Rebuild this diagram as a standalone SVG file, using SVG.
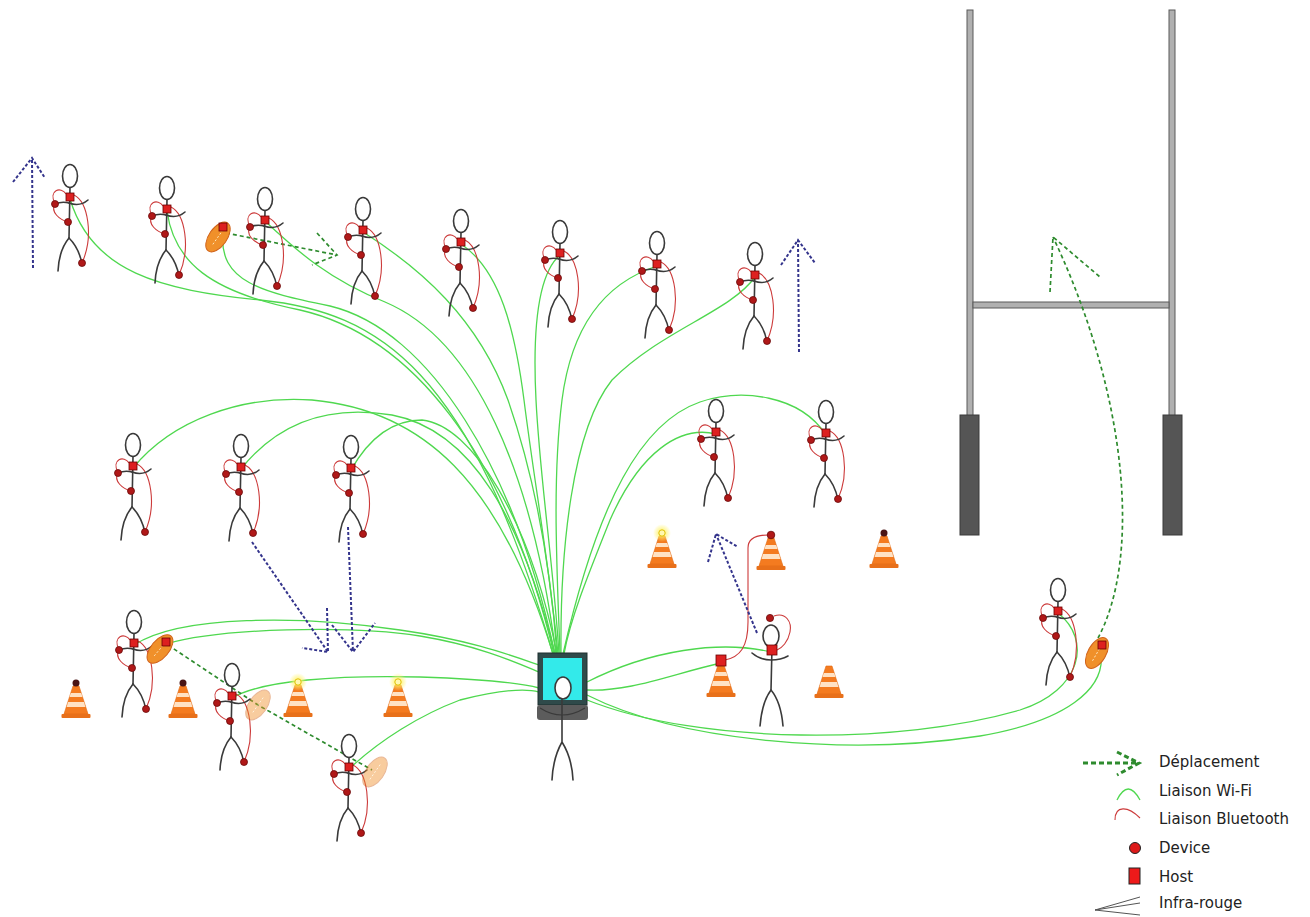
<svg xmlns="http://www.w3.org/2000/svg" xmlns:xlink="http://www.w3.org/1999/xlink" width="1310" height="917" viewBox="0 0 1310 917">
  <style>
    .stk{fill:none;stroke:#3a3a3a;stroke-width:1.6;stroke-linecap:round}
    .head{fill:#fff;stroke:#3a3a3a;stroke-width:1.6}
    .bt{fill:none;stroke:#cc3a3a;stroke-width:1.1}
    .dev{fill:#b01818;stroke:#6a0a0a;stroke-width:0.8}
    .host{fill:#dd2020;stroke:#6a0000;stroke-width:0.8}
    .wifi{fill:none;stroke:#4fd84f;stroke-width:1.3}
    .move{fill:none;stroke:#2e8b2e;stroke-width:1.7;stroke-dasharray:4 3}
    .run{fill:none;stroke:#34348c;stroke-width:2;stroke-dasharray:3 2}
    .post{fill:#b0b0b0;stroke:#5a5a5a;stroke-width:1}
    .pad{fill:#555;stroke:#3a3a3a;stroke-width:1}
    .lbl{font-family:"DejaVu Sans",Verdana,sans-serif;font-size:15px;fill:#222}
  </style>
  <defs>
    <radialGradient id="glow">
      <stop offset="0" stop-color="#fff36a" stop-opacity="1"/>
      <stop offset="0.5" stop-color="#fff36a" stop-opacity="0.6"/>
      <stop offset="1" stop-color="#fff36a" stop-opacity="0"/>
    </radialGradient>
    <!-- stick player carrying devices, origin at head centre -->
    <g id="player">
      <path class="bt" d="M4,19 C18,26 24,60 12,87"/>
      <path class="bt" d="M-4,18 C-9,10 -22,14 -15,28"/>
      <path class="bt" d="M-15,28 C-20,36 -10,44 -2,46"/>
      <ellipse class="head" cx="0" cy="0" rx="7.5" ry="11.5"/>
      <path class="stk" d="M0,11.5 L-1,62"/>
      <path class="stk" d="M-1,27 Q-8,25 -15,28"/>
      <path class="stk" d="M-1,27 Q10,31 18,24"/>
      <path class="stk" d="M-1,62 Q-11,74 -12,95"/>
      <path class="stk" d="M-1,62 Q9,72 12,88"/>
      <rect class="host" x="-4" y="17" width="8" height="8"/>
      <circle class="dev" cx="-15" cy="28" r="3.5"/>
      <circle class="dev" cx="-2" cy="46" r="3.5"/>
      <circle class="dev" cx="12" cy="87" r="3.5"/>
    </g>
    <!-- traffic cone, origin at the tip -->
    <g id="cone">
      <path d="M-3,3 L3,3 L12,31 L-12,31 Z" fill="#f47b20" stroke="#e06a12" stroke-width="0.6"/>
      <path d="M-5.2,10 L5.2,10 L6.5,14 L-6.5,14 Z" fill="#ffe2c4"/>
      <path d="M-8,19 L8,19 L9.4,24 L-9.4,24 Z" fill="#ffe2c4"/>
      <rect x="-14.5" y="31" width="29" height="4" rx="1" fill="#e8701a"/>
    </g>
    <g id="ball">
      <ellipse rx="17" ry="9" fill="#f0902a" stroke="#d0621a" stroke-width="1"/>
      <path d="M-9,0 L9,0" stroke="#fff2d0" stroke-width="0.8" stroke-dasharray="2 2"/>
    </g>
    <g id="lamp">
      <circle r="9" fill="url(#glow)"/>
      <circle r="3.2" fill="#fff8b0" stroke="#e0c000" stroke-width="1"/>
    </g>
  </defs>

  <rect width="1310" height="917" fill="#fff"/>

  <!-- goal posts -->
  <g id="goal">
    <rect class="post" x="967" y="10" width="6" height="410"/>
    <rect class="post" x="1169" y="10" width="6" height="410"/>
    <rect class="post" x="973" y="302" width="196" height="6"/>
    <rect class="pad" x="960" y="415" width="19" height="120"/>
    <rect class="pad" x="1163" y="415" width="19" height="120"/>
  </g>

  <!-- connectors -->
  <g id="connectors">
    <!-- Wi-Fi links to the coach's computer -->
    <path class="wifi" d="M70,199 C92,272 160,290 260,300 C380,312 470,370 553,654"/>
    <path class="wifi" d="M167,211 C174,262 210,292 300,310 C410,335 505,450 554,654"/>
    <path class="wifi" d="M223,232 C218,282 262,292 330,306 C430,330 515,470 555,654"/>
    <path class="wifi" d="M266,222 C298,252 330,280 385,302 C475,340 532,470 556,654"/>
    <path class="wifi" d="M363,232 C420,268 478,318 508,400 C535,478 550,560 557,654"/>
    <path class="wifi" d="M461,244 C500,270 515,330 524,400 C534,480 550,570 558,654"/>
    <path class="wifi" d="M560,255 C540,272 532,320 536,400 C540,480 553,560 559,654"/>
    <path class="wifi" d="M657,266 C608,282 572,322 562,400 C552,480 557,570 560,654"/>
    <path class="wifi" d="M755,277 C730,312 662,330 612,380 C572,430 560,550 561,654"/>
    <path class="wifi" d="M133,468 C172,420 242,395 312,400 C422,410 500,480 553,654"/>
    <path class="wifi" d="M241,469 C280,420 332,405 392,415 C472,430 522,520 555,654"/>
    <path class="wifi" d="M351,470 C368,440 390,420 422,420 C472,425 530,520 557,654"/>
    <path class="wifi" d="M716,434 C680,425 640,452 610,520 C586,580 570,620 564,654"/>
    <path class="wifi" d="M826,435 C800,395 742,388 700,402 C642,422 598,500 563,654"/>
    <path class="wifi" d="M134,645 C180,615 300,615 400,630 C470,640 510,655 539,665"/>
    <path class="wifi" d="M166,644 C220,628 350,625 420,636 C480,646 515,662 539,672"/>
    <path class="wifi" d="M232,698 C262,680 340,675 420,677 C480,679 520,683 539,688"/>
    <path class="wifi" d="M349,769 C380,740 420,715 460,700 C500,690 525,688 539,692"/>
    <path class="wifi" d="M721,663 C672,674 630,692 587,690"/>
    <path class="wifi" d="M771,652 C720,640 650,650 587,682"/>
    <path class="wifi" d="M1058,613 C1092,640 1082,690 1020,710 C900,745 700,745 587,700"/>
    <path class="wifi" d="M1100,648 C1110,690 1062,722 980,736 C850,756 680,742 587,695"/>

    <!-- Bluetooth link from the cone host to the cone device -->
    <path class="bt" d="M725,660 C740,657 748,647 748,622 L748,548 C748,538 758,535 768,535"/>
    <!-- Bluetooth loop on the coach-side player -->
    <path class="bt" d="M774,616 C786,612 792,622 790,632 C788,642 782,648 777,650"/>

    <!-- ball movement -->
    <path class="move" d="M226,233 L337,255"/>
    <path class="move" d="M317,233 L337,255 L312,265"/>
    <path class="move" d="M168,645 L258,705 L372,770"/>
    <path class="move" d="M1098,638 C1140,560 1130,400 1053,237"/>
    <path class="move" d="M1050,292 L1053,237 L1100,277"/>

    <!-- player runs -->
    <path class="run" d="M33,268 L32,158 M13,182 L32,158 L45,178"/>
    <path class="run" d="M799,352 L798,240 M781,265 L798,240 L815,263"/>
    <path class="run" d="M252,542 L328,652 M327,608 L328,652 L302,648"/>
    <path class="run" d="M348,527 L353,652 M332,625 L353,652 L375,623"/>
    <path class="run" d="M757,633 L716,534 M708,562 L716,534 L738,547"/>
  </g>

  <!-- cones -->
  <g id="cone-1"><use xlink:href="#cone" x="76" y="683"/><circle cx="76" cy="683" r="3.5" fill="#4a1414"/></g>
  <g id="cone-2"><use xlink:href="#cone" x="183" y="683"/><circle cx="183" cy="683" r="3.5" fill="#4a1414"/></g>
  <g id="cone-3"><use xlink:href="#cone" x="298" y="682"/><use xlink:href="#lamp" x="298" y="682"/></g>
  <g id="cone-4"><use xlink:href="#cone" x="398" y="682"/><use xlink:href="#lamp" x="398" y="682"/></g>
  <g id="cone-5"><use xlink:href="#cone" x="662" y="533"/><use xlink:href="#lamp" x="662" y="533"/></g>
  <g id="cone-6"><use xlink:href="#cone" x="771" y="535"/><circle class="dev" cx="771" cy="535" r="3.8"/></g>
  <g id="cone-7"><use xlink:href="#cone" x="884" y="533"/><circle cx="884" cy="533" r="3.5" fill="#4a1414"/></g>
  <g id="cone-8"><use xlink:href="#cone" x="721" y="662"/><rect class="host" x="716" y="655" width="10" height="11"/></g>
  <g id="cone-9"><use xlink:href="#cone" x="829" y="663"/></g>

  <!-- players -->
  <g id="player-1"><use xlink:href="#player" x="70" y="176"/></g>
  <g id="player-2"><use xlink:href="#player" x="167" y="188"/></g>
  <g id="player-3"><use xlink:href="#player" x="265" y="199"/></g>
  <g id="player-4"><use xlink:href="#player" x="363" y="209"/></g>
  <g id="player-5"><use xlink:href="#player" x="461" y="221"/></g>
  <g id="player-6"><use xlink:href="#player" x="560" y="232"/></g>
  <g id="player-7"><use xlink:href="#player" x="657" y="243"/></g>
  <g id="player-8"><use xlink:href="#player" x="755" y="254"/></g>
  <g id="player-9"><use xlink:href="#player" x="133" y="445"/></g>
  <g id="player-10"><use xlink:href="#player" x="241" y="446"/></g>
  <g id="player-11"><use xlink:href="#player" x="351" y="447"/></g>
  <g id="player-12"><use xlink:href="#player" x="716" y="411"/></g>
  <g id="player-13"><use xlink:href="#player" x="826" y="412"/></g>
  <g id="player-14"><use xlink:href="#player" x="134" y="622"/></g>
  <g id="player-15"><use xlink:href="#player" x="232" y="675"/></g>
  <g id="player-16"><use xlink:href="#player" x="349" y="746"/></g>
  <g id="player-18"><use xlink:href="#player" x="1058" y="590"/></g>

  <!-- player wearing a head device -->
  <g id="player-17">
    <ellipse class="head" cx="771" cy="636" rx="8" ry="11"/>
    <path class="stk" d="M772,647 L771,690"/>
    <path class="stk" d="M752,653 Q760,660 771,660 Q781,660 788,656"/>
    <path class="stk" d="M771,690 Q762,702 760,726 M771,690 Q781,702 783,726"/>
    <rect class="host" x="767" y="645" width="10" height="10"/>
    <circle class="dev" cx="770" cy="618" r="3.6"/>
  </g>

  <!-- balls -->
  <g id="ball-1"><use xlink:href="#ball" transform="translate(218,237) rotate(-55)"/><rect class="host" x="219" y="223" width="8" height="8"/></g>
  <g id="ball-2"><use xlink:href="#ball" transform="translate(160,649) rotate(-50)"/><rect class="host" x="162" y="638" width="8" height="8"/></g>
  <g id="ball-3" opacity="0.45"><use xlink:href="#ball" transform="translate(258,705) rotate(-55)"/></g>
  <g id="ball-4" opacity="0.45"><use xlink:href="#ball" transform="translate(375,772) rotate(-55)"/></g>
  <g id="ball-5"><use xlink:href="#ball" transform="translate(1097,653) rotate(-60)"/><rect class="host" x="1098" y="641" width="8" height="8"/></g>

  <!-- coach at the computer -->
  <g id="computer">
    <rect x="538" y="653" width="49" height="52" fill="#2f4a4a" stroke="#1e2e2e" stroke-width="1"/>
    <rect x="543" y="658" width="39" height="42" fill="#33eaea"/>
    <rect x="537" y="705" width="51" height="15" rx="3" fill="#5c5c5c"/>
    <path d="M540,708 Q562,722 585,708" fill="none" stroke="#3a3a3a" stroke-width="1.2"/>
    <ellipse class="head" cx="563" cy="688" rx="8" ry="11"/>
    <path class="stk" d="M562,699 L562,742 M562,742 Q553,758 552,780 M562,742 Q572,758 573,780"/>
  </g>

  <!-- legend -->
  <g id="legend">
    <path d="M1083,763 L1138,763 M1117,752 L1139,763 L1117,775" fill="none" stroke="#2e8b2e" stroke-width="3" stroke-dasharray="5 3"/>
    <text class="lbl" x="1159" y="767">Déplacement</text>
    <path class="wifi" d="M1117,800 Q1128,778 1140,800"/>
    <text class="lbl" x="1159" y="796">Liaison Wi-Fi</text>
    <path class="bt" d="M1115,820 C1115,805 1128,806 1140,818"/>
    <text class="lbl" x="1159" y="824">Liaison Bluetooth</text>
    <circle cx="1135" cy="848" r="5.5" fill="#dd1a1a" stroke="#222" stroke-width="1"/>
    <text class="lbl" x="1159" y="853">Device</text>
    <rect x="1129" y="868" width="11" height="16" fill="#ee1a1a" stroke="#222" stroke-width="1"/>
    <text class="lbl" x="1159" y="882">Host</text>
    <path d="M1140,897 L1095,910 L1140,903 M1095,910 L1140,915" fill="none" stroke="#555" stroke-width="1"/>
    <text class="lbl" x="1159" y="908">Infra-rouge</text>
  </g>
</svg>
